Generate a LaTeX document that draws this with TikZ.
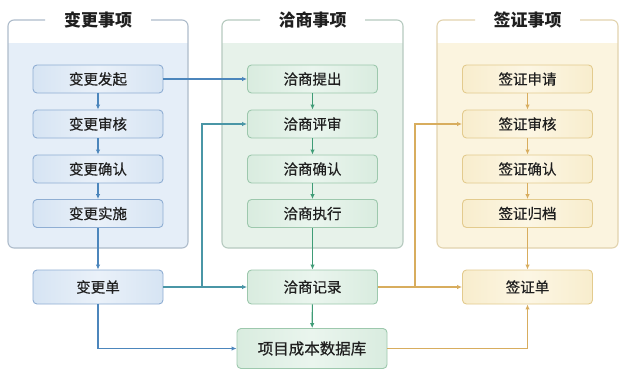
\documentclass[tikz,border=0pt]{standalone}
\usepackage{fontspec}
\newfontfamily\cjk{Noto Sans CJK SC}
\newfontfamily\cjkm[FakeBold=0.5]{Noto Sans CJK SC}
\usetikzlibrary{arrows.meta}
\definecolor{txt}{HTML}{1F1F1F}
\definecolor{bframe}{HTML}{AEBCCB}
\definecolor{gframe}{HTML}{B6CABF}
\definecolor{yframe}{HTML}{E2D3AE}
\definecolor{bpanel}{HTML}{E5EEF8}
\definecolor{gpanel}{HTML}{E7F2EA}
\definecolor{ypanel}{HTML}{FBF4DF}
\definecolor{bborder}{HTML}{8FAED3}
\definecolor{gborder}{HTML}{9DC8AD}
\definecolor{yborder}{HTML}{E3CB8E}
\definecolor{bfillA}{HTML}{D6E4F3}
\definecolor{bfillB}{HTML}{EAF1F9}
\definecolor{gfillA}{HTML}{D9ECDF}
\definecolor{gfillB}{HTML}{EAF5EE}
\definecolor{yfillA}{HTML}{F8EDCD}
\definecolor{yfillB}{HTML}{FCF6E4}
\definecolor{barrow}{HTML}{4C86BC}
\definecolor{tarrow}{HTML}{4A96A6}
\definecolor{garrow}{HTML}{3F9C76}
\definecolor{yarrow}{HTML}{D8AD5E}
\tikzset{
  box/.style={rounded corners=4pt, line width=0.9pt, minimum width=130pt, minimum height=28pt,
    inner sep=0pt, font=\cjkm\fontsize{14.5}{16}\selectfont, text=txt},
  bbox/.style={box, draw=bborder, left color=bfillA, right color=bfillA, middle color=bfillB},
  gbox/.style={box, draw=gborder, left color=gfillA, right color=gfillA, middle color=gfillB},
  ybox/.style={box, draw=yborder, left color=yfillA, right color=yfillA, middle color=yfillB},
  ttl/.style={font=\cjk\bfseries\fontsize{17}{19}\selectfont, text=txt, inner sep=0pt},
  arr/.style={line width=1.1pt, -{Latex[length=5pt,width=4.5pt]}},
  frm/.style={line width=1.1pt, rounded corners=6pt},
}
\begin{document}
\begin{tikzpicture}[x=1pt,y=-1pt]
\useasboundingbox (0,0) rectangle (623,373);
\fill[white] (0,0) rectangle (623,373);

% panels
\fill[bpanel, rounded corners=6pt] (8,43) rectangle (188,248);
\fill[bpanel] (8,43) rectangle (188,55);
\draw[frm, bframe] (45,20) -- (8,20) -- (8,248) -- (188,248) -- (188,20) -- (151,20);
\node[ttl] (t1) at (98,20) {变更事项};

\fill[gpanel, rounded corners=6pt] (222,43) rectangle (403,248);
\fill[gpanel] (222,43) rectangle (403,55);
\draw[frm, gframe] (260,20) -- (222,20) -- (222,248) -- (403,248) -- (403,20) -- (365,20);
\node[ttl] (t2) at (312.5,20) {洽商事项};

\fill[ypanel, rounded corners=6pt] (437,43) rectangle (618,248);
\fill[ypanel] (437,43) rectangle (618,55);
\draw[frm, yframe] (475,20) -- (437,20) -- (437,248) -- (618,248) -- (618,20) -- (580,20);
\node[ttl] (t3) at (527.5,20) {签证事项};

% left column
\node[bbox] (b1) at (98,79) {变更发起};
\node[bbox] (b2) at (98,124) {变更审核};
\node[bbox] (b3) at (98,169) {变更确认};
\node[bbox] (b4) at (98,213.5) {变更实施};
\node[bbox, minimum height=34pt] (bd) at (98,287) {变更单};

% middle column
\node[gbox] (g1) at (312.5,79) {洽商提出};
\node[gbox] (g2) at (312.5,124) {洽商评审};
\node[gbox] (g3) at (312.5,169) {洽商确认};
\node[gbox] (g4) at (312.5,213.5) {洽商执行};
\node[gbox, minimum height=34pt] (gd) at (312.5,287) {洽商记录};
\node[gbox, minimum width=150pt, minimum height=40pt, font=\cjkm\fontsize{15.5}{17}\selectfont] (db) at (312,348.5) {项目成本数据库};

% right column
\node[ybox] (y1) at (527.5,79) {签证申请};
\node[ybox] (y2) at (527.5,124) {签证审核};
\node[ybox] (y3) at (527.5,169) {签证确认};
\node[ybox] (y4) at (527.5,213.5) {签证归档};
\node[ybox, minimum height=34pt] (yd) at (527.5,287) {签证单};

% vertical arrows within columns
\draw[arr, barrow] (b1) -- (b2);
\draw[arr, barrow] (b2) -- (b3);
\draw[arr, barrow] (b3) -- (b4);
\draw[arr, barrow] (b4) -- (bd);
\draw[arr, garrow] (g1) -- (g2);
\draw[arr, garrow] (g2) -- (g3);
\draw[arr, garrow] (g3) -- (g4);
\draw[arr, garrow] (g4) -- (gd);
\draw[arr, garrow] (gd) -- (db);
\draw[arr, yarrow] (y1) -- (y2);
\draw[arr, yarrow] (y2) -- (y3);
\draw[arr, yarrow] (y3) -- (y4);
\draw[arr, yarrow] (y4) -- (yd);

% cross connectors
\draw[arr, barrow] (b1) -- (g1);
\coordinate (j1) at (202,287);
\draw[arr, tarrow] (bd) -- (gd);
\draw[arr, tarrow] (j1) |- (g2.west);
\coordinate (j2) at (415,287);
\draw[arr, yarrow] (gd) -- (yd);
\draw[arr, yarrow] (j2) |- (y2.west);
\draw[arr, barrow] (bd.south) |- (db.west);
\draw[arr, yarrow] (db.east) -| (yd.south);
\end{tikzpicture}
\end{document}
